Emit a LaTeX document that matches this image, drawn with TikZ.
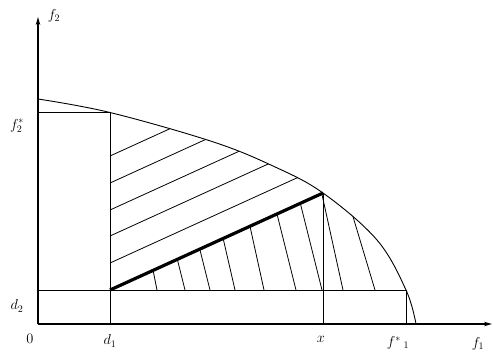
\documentclass[tikz,border=0pt]{standalone}
\usetikzlibrary{arrows.meta}
\begin{document}
\begin{tikzpicture}[x=1pt,y=-1pt,
  axis/.style={line width=1.4pt},
  thinline/.style={line width=0.9pt},
  hatch/.style={line width=0.8pt},
  boldline/.style={line width=3.2pt},
  lab/.style={font=\fontsize{14}{16}\selectfont, inner sep=0pt},
  arr/.style={-{Stealth[length=8pt,width=4.5pt]}}]
\useasboundingbox (0,0) rectangle (493,354);
\coordinate (O) at (38,324);
\coordinate (Ytop) at (38,17);
\coordinate (Xend) at (492,324);
\coordinate (P2) at (110,112.5);
\coordinate (F2) at (38,112.5);
\coordinate (D1) at (110,324);
\coordinate (D) at (110,290);
\coordinate (D2) at (38,290);
\coordinate (X) at (323,193);
\coordinate (XB) at (323,324);
\coordinate (P1) at (406,290);
\coordinate (F1) at (406,324);
% upper hatching
\begin{scope}
  \clip (110,100) -- (D) -- (X) -- (323,100) -- cycle;
  \clip plot[smooth,tension=0.6] coordinates {(38,99) (110,112.5) (212,141.5) (273,166) (323,193) (377,240) (406,290) (416,324)} -- (38,324) -- cycle;
  \foreach \y in {156,183,210,236,263} \draw[hatch] (110,\y) -- ++(300,-136.6);
\end{scope}
% lower hatching
\begin{scope}
  \clip (D) -- (X) -- (500,193) -- (500,290) -- cycle;
  \clip plot[smooth,tension=0.6] coordinates {(38,99) (110,112.5) (212,141.5) (273,166) (323,193) (377,240) (406,290) (416,324)} -- (38,324) -- cycle;
  \foreach \b/\k in {157/0.2, 185/0.25, 210/0.25, 235/0.23, 264/0.22, 296/0.25, 322/0.25, 343/0.22, 375/0.3}
    \draw[hatch] (\b,290) -- ++({-150*\k},-150);
\end{scope}
% curve
\draw[thinline] plot[smooth,tension=0.6] coordinates {(38,99) (110,112.5) (212,141.5) (273,166) (323,193) (377,240) (406,290) (416,324)};
% lines
\draw[thinline] (F2) -- (P2) -- (D1);
\draw[thinline] (D2) -- (P1) -- (F1);
\draw[thinline] (X) -- (XB);
\draw[boldline] (D) -- (X);
% axes
\draw[axis, arr] (O) -- (Ytop);
\draw[axis, arr] (O) -- (Xend);
% labels
\node[lab] (lf2) at (54,16) {$f_2$};
\node[lab] (lf2s) at (17,126) {$f_2^*$};
\node[lab] (ld2) at (17,306) {$d_2$};
\node[lab] (l0) at (30,339) {$0$};
\node[lab] (ld1) at (110,341) {$d_1$};
\node[lab] (lx) at (321,339) {$x$};
\node[lab] (lf1s) at (398,343) {$f^{*}{}_{\;1}$};
\node[lab] (lf1) at (478,344) {$f_1$};
\end{tikzpicture}
\end{document}
